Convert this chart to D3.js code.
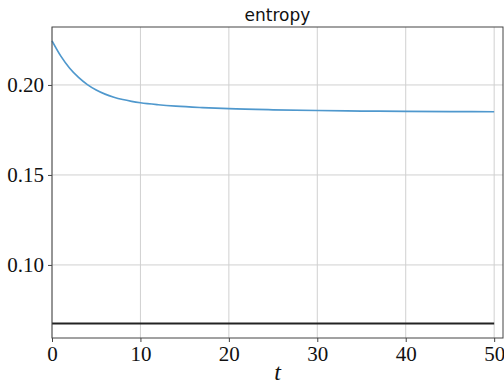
<!DOCTYPE html>
<html>
<head>
<meta charset="utf-8">
<script src="https://cdn.jsdelivr.net/npm/d3@7"></script>
<style>
  body { margin: 0; background: #fff; }
  svg { display: block; }
</style>
</head>
<body>
<svg width="504" height="387"></svg>
<script>
// data
const tValues = [0, 1, 2, 3, 4, 5, 6, 7, 8, 9, 10, 12, 14, 17, 20, 25, 30, 35, 40, 45, 50];
const entropyValues = [0.2245, 0.2160, 0.2093, 0.2042, 0.2002, 0.1972, 0.1949, 0.1932, 0.1919, 0.1909, 0.1901, 0.1890, 0.1882, 0.1874, 0.1868, 0.1862, 0.1858, 0.1855, 0.1853, 0.1852, 0.1851];
const baselineValue = 0.0675;
const xTicks = [0, 10, 20, 30, 40, 50];
const yTicks = [0.10, 0.15, 0.20];

const svg = d3.select('svg');
const width = +svg.attr('width');
const height = +svg.attr('height');

const margin = { top: 27, right: 1, bottom: 49, left: 52 };
const innerWidth = width - margin.left - margin.right;
const innerHeight = height - margin.top - margin.bottom;

const x = d3.scaleLinear().domain([0, 51]).range([0, innerWidth]);
const y = d3.scaleLinear().domain([0.0594, 0.2322]).range([innerHeight, 0]);

const g = svg.append('g').attr('transform', `translate(${margin.left},${margin.top})`);

// grid
g.append('g').selectAll('line').data(xTicks).enter().append('line')
  .attr('x1', d => x(d)).attr('x2', d => x(d))
  .attr('y1', 0).attr('y2', innerHeight)
  .attr('stroke', '#d0d0d0').attr('stroke-width', 1);
g.append('g').selectAll('line').data(yTicks).enter().append('line')
  .attr('x1', 0).attr('x2', innerWidth)
  .attr('y1', d => y(d)).attr('y2', d => y(d))
  .attr('stroke', '#d0d0d0').attr('stroke-width', 1);

// lines
const data = tValues.map((t, i) => ({ t, v: entropyValues[i] }));
g.append('path').datum(data)
  .attr('fill', 'none').attr('stroke', '#4f98cd').attr('stroke-width', 1.7)
  .attr('d', d3.line().x(d => x(d.t)).y(d => y(d.v)).curve(d3.curveMonotoneX));

g.append('path').datum([0, 50])
  .attr('fill', 'none').attr('stroke', '#222').attr('stroke-width', 2)
  .attr('d', d3.line().x(d => x(d)).y(() => y(baselineValue)));

// axes
const xAxis = g.append('g').attr('transform', `translate(0,${innerHeight})`)
  .call(d3.axisBottom(x).tickValues(xTicks).tickSize(4).tickPadding(4).tickFormat(d3.format('d')));
const yAxis = g.append('g')
  .call(d3.axisLeft(y).tickValues(yTicks).tickSize(4).tickPadding(4).tickFormat(d3.format('.2f')));
[xAxis, yAxis].forEach(a => {
  a.select('.domain').remove();
  a.selectAll('line').attr('stroke', '#444');
  a.selectAll('text').attr('fill', '#111')
    .style('font-family', "'Liberation Serif'").style('font-size', '21px');
});

// frame
g.append('rect').attr('x', 0).attr('y', 0).attr('width', innerWidth).attr('height', innerHeight)
  .attr('fill', 'none').attr('stroke', '#444').attr('stroke-width', 1);

// labels
svg.append('text').attr('x', margin.left + innerWidth / 2).attr('y', 21)
  .attr('text-anchor', 'middle').style('font-family', "'DejaVu Sans'").style('font-size', '17px')
  .attr('fill', '#111').text('entropy');
svg.append('text').attr('x', margin.left + innerWidth / 2).attr('y', 380)
  .attr('text-anchor', 'middle').style('font-family', "'Liberation Serif'").style('font-style', 'italic')
  .style('font-size', '24px').attr('fill', '#111').text('t');
</script>
</body>
</html>
